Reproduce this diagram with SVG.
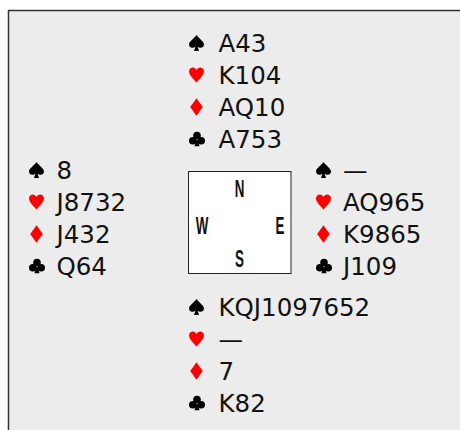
<svg xmlns="http://www.w3.org/2000/svg" width="460" height="430" viewBox="0 0 460 430">
<style>
.h{font-family:"DejaVu Sans","Liberation Sans",sans-serif;font-size:24.5px;fill:#111}
.c{font-family:"Liberation Sans",sans-serif;font-weight:bold;font-size:23px;fill:#111;text-anchor:middle}
.blk{fill:#000}
.red{fill:#f00}
</style>
<defs>
<path id="spade" d="M0,-8 C-3,-4 -7.5,-1.5 -7.5,1.5 C-7.5,4 -5,5.5 -2.5,4.5 C-2,4.3 -1.5,4 -1,3.5 L-2.5,8 L2.5,8 L1,3.5 C1.5,4 2,4.3 2.5,4.5 C5,5.5 7.5,4 7.5,1.5 C7.5,-1.5 3,-4 0,-8Z"/>
<path id="heart" d="M0,7.5 C-3,4 -7.5,0 -7.5,-3.5 C-7.5,-6 -5.5,-7.5 -3.7,-7.5 C-2,-7.5 -0.7,-6.5 0,-5 C0.7,-6.5 2,-7.5 3.7,-7.5 C5.5,-7.5 7.5,-6 7.5,-3.5 C7.5,0 3,4 0,7.5Z"/>
<path id="diamond" d="M0,-8.8 L6.3,0 L0,8.8 L-6.3,0Z"/>
<g id="club"><circle cx="0" cy="-3.5" r="3.8"/><circle cx="-4.2" cy="1.8" r="3.8"/><circle cx="4.2" cy="1.8" r="3.8"/><path d="M-0.8,1 L-2.5,7.2 L2.5,7.2 L0.8,1Z"/></g>
</defs>
<rect x="0" y="0" width="460" height="430" fill="#fff"/>
<rect id="panel" x="8.5" y="10.5" width="460" height="430" fill="#ececec" stroke="#333" stroke-width="1.5"/>
<g id="north">
<use href="#spade" x="196.5" y="43" class="blk"/><text class="h" x="218.5" y="51.5">A43</text>
<use href="#heart" x="196.5" y="75" class="red"/><text class="h" x="218.5" y="83.5">K104</text>
<use href="#diamond" x="196.5" y="107" class="red"/><text class="h" x="218.5" y="115.5">AQ10</text>
<use href="#club" x="197" y="139" class="blk"/><text class="h" x="218.5" y="147.5">A753</text>
</g>
<g id="west">
<use href="#spade" x="36.5" y="170" class="blk"/><text class="h" x="56.5" y="178.5">8</text>
<use href="#heart" x="36.5" y="202" class="red"/><text class="h" x="56.5" y="210.5">J8732</text>
<use href="#diamond" x="36.5" y="234" class="red"/><text class="h" x="56.5" y="242.5">J432</text>
<use href="#club" x="37" y="266" class="blk"/><text class="h" x="56.5" y="274.5">Q64</text>
</g>
<g id="east">
<use href="#spade" x="323.5" y="170" class="blk"/><text class="h" x="343" y="178.5">—</text>
<use href="#heart" x="323.5" y="202" class="red"/><text class="h" x="343" y="210.5">AQ965</text>
<use href="#diamond" x="323.5" y="234" class="red"/><text class="h" x="343" y="242.5">K9865</text>
<use href="#club" x="324" y="266" class="blk"/><text class="h" x="343" y="274.5">J109</text>
</g>
<g id="south">
<use href="#spade" x="196.5" y="307" class="blk"/><text class="h" x="218.5" y="315.5">KQJ1097652</text>
<use href="#heart" x="196.5" y="339" class="red"/><text class="h" x="218.5" y="347.5">—</text>
<use href="#diamond" x="196.5" y="371" class="red"/><text class="h" x="218.5" y="379.5">7</text>
<use href="#club" x="197" y="403" class="blk"/><text class="h" x="218.5" y="411.5">K82</text>
</g>
<g id="compass">
<rect x="188.5" y="171.5" width="102.5" height="102" fill="#fff" stroke="#222" stroke-width="1"/>
<text class="c" transform="translate(239.5,196.5) scale(0.58,1)">N</text>
<text class="c" transform="translate(202,234) scale(0.58,1)">W</text>
<text class="c" transform="translate(280,234) scale(0.58,1)">E</text>
<text class="c" transform="translate(239.5,266.5) scale(0.58,1)">S</text>
</g>
</svg>
